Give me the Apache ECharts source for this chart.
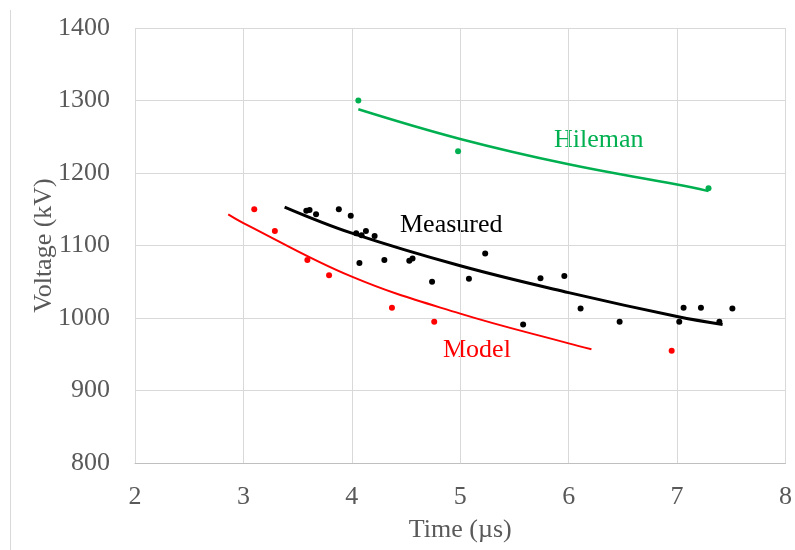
<!DOCTYPE html>
<html>
<head>
<meta charset="utf-8">
<title>Voltage vs Time</title>
<script src="https://cdn.jsdelivr.net/npm/echarts@6/dist/echarts.min.js"></script>
<style>
  html, body { margin: 0; padding: 0; background: #fff; }
  #chart { width: 795px; height: 550px; }
</style>
</head>
<body>
<div id="chart"></div>
<script>
// Breakdown voltage (kV) against time to breakdown (µs)
const measuredPoints = [
  [3.58, 1148], [3.61, 1149], [3.67, 1143], [3.88, 1150], [3.99, 1141],
  [4.04, 1117], [4.09, 1114], [4.13, 1120], [4.21, 1113], [4.07, 1076],
  [4.30, 1080], [4.53, 1079], [4.56, 1082], [4.74, 1050], [5.08, 1054],
  [5.23, 1089], [5.58, 991], [5.74, 1055], [5.96, 1058], [6.11, 1013],
  [6.47, 995], [7.02, 995], [7.06, 1014], [7.22, 1014], [7.39, 995],
  [7.51, 1013]
];
const modelPoints = [
  [3.10, 1150], [3.29, 1120], [3.59, 1080], [3.79, 1059],
  [4.37, 1014], [4.76, 995], [6.95, 955]
];
const hilemanPoints = [
  [4.06, 1300], [4.98, 1230], [7.29, 1179]
];

// Fitted trend curves
const measuredTrend = [[3.38, 1153], [4, 1117], [5, 1072], [6, 1035], [7, 1002], [7.42, 991]];
const modelTrend = [[2.86, 1143], [3, 1131], [4, 1057], [5, 1006], [6, 965], [6.21, 957]];
const hilemanTrend = [[4.06, 1288], [5, 1247], [6, 1212], [7, 1184], [7.29, 1175]];

const xTicks = { min: 2, max: 8, interval: 1 };
const yTicks = { min: 800, max: 1400, interval: 100 };

const serif = "'Liberation Serif', 'Times New Roman', serif";
const axisGrey = '#595959';
const gridGrey = '#d9d9d9';

const chart = echarts.init(document.getElementById('chart'), null, { renderer: 'canvas' });

function dots(name, data, color) {
  return {
    name: name, type: 'scatter', data: data, symbol: 'circle', symbolSize: 6,
    itemStyle: { color: color, opacity: 1 }, z: 3
  };
}
function trend(name, data, color, width) {
  return {
    name: name, type: 'line', data: data, smooth: 0.4, symbol: 'none',
    lineStyle: { color: color, width: width }, z: 2
  };
}

chart.setOption({
  animation: false,
  backgroundColor: '#fff',
  grid: { left: 135, right: 8, top: 28, bottom: 87 },
  xAxis: {
    type: 'value', min: xTicks.min, max: xTicks.max, interval: xTicks.interval,
    name: 'Time (µs)', nameLocation: 'middle', nameGap: 54, nameMoveOverlap: false,
    nameTextStyle: { fontFamily: serif, fontSize: 26, color: axisGrey },
    axisLine: { show: true, lineStyle: { color: '#bfbfbf', width: 1 } },
    axisTick: { show: false },
    axisLabel: { fontFamily: serif, fontSize: 26, color: axisGrey, margin: 21 },
    splitLine: { show: true, lineStyle: { color: gridGrey, width: 1 } }
  },
  yAxis: {
    type: 'value', min: yTicks.min, max: yTicks.max, interval: yTicks.interval,
    name: 'Voltage (kV)', nameLocation: 'middle', nameGap: 78, nameMoveOverlap: false,
    nameTextStyle: { fontFamily: serif, fontSize: 26, color: axisGrey },
    axisLine: { show: false },
    axisTick: { show: false },
    axisLabel: { fontFamily: serif, fontSize: 26, color: axisGrey, margin: 25,
      formatter: function (v) { return String(v); } },
    splitLine: { show: true, lineStyle: { color: gridGrey, width: 1 } }
  },
  graphic: [
    { type: 'line', shape: { x1: 10.5, y1: 10, x2: 10.5, y2: 550 },
      style: { stroke: gridGrey, lineWidth: 1 }, silent: true },
    { type: 'text', left: 554, top: 127,
      style: { text: 'Hileman', font: "26px 'Liberation Serif', serif", fill: '#00b050' } },
    { type: 'text', left: 400, top: 212,
      style: { text: 'Measured', font: "26px 'Liberation Serif', serif", fill: '#000' } },
    { type: 'text', left: 443, top: 337,
      style: { text: 'Model', font: "26px 'Liberation Serif', serif", fill: '#ff0000' } }
  ],
  series: [
    trend('Hileman fit', hilemanTrend, '#00b050', 2.5),
    trend('Measured fit', measuredTrend, '#000', 3),
    trend('Model fit', modelTrend, '#ff0000', 2),
    dots('Hileman', hilemanPoints, '#00b050'),
    dots('Measured', measuredPoints, '#000'),
    dots('Model', modelPoints, '#ff0000')
  ]
});
</script>
</body>
</html>
